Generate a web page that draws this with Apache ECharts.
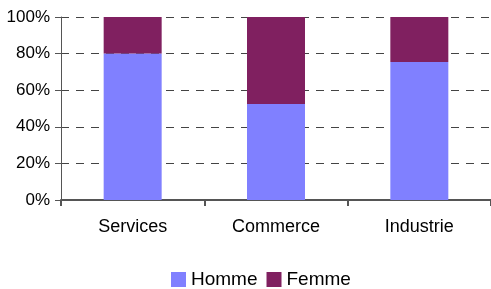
<!DOCTYPE html>
<html>
<head>
<meta charset="utf-8">
<script src="https://cdn.jsdelivr.net/npm/echarts@6/dist/echarts.min.js"></script>
<style>
  html, body { margin: 0; padding: 0; background: #fff; }
  #chart { width: 491px; height: 289px; }
</style>
</head>
<body>
<div id="chart"></div>
<script>
// données
const categories = ["Services", "Commerce", "Industrie"];
const homme = [80, 52.4, 75.4];
const femme = [20, 47.6, 24.6];
const yTicks = [0, 20, 40, 60, 80, 100];

const chart = echarts.init(document.getElementById("chart"));
const font = "Liberation Sans, Arial, sans-serif";

chart.setOption({
  animation: false,
  color: ["#8080ff", "#802060"],
  grid: { left: 61, right: 0, top: 17, bottom: 89 },
  legend: {
    top: 270,
    left: 171,
    padding: 0,
    itemWidth: 15,
    itemHeight: 15,
    itemGap: 9,
    icon: "rect",
    textStyle: { fontFamily: font, fontSize: 19, color: "#000" },
    data: ["Homme", "Femme"]
  },
  xAxis: {
    type: "category",
    data: categories,
    axisLine: { lineStyle: { color: "#555", width: 2 } },
    axisTick: { show: true, length: 6, lineStyle: { color: "#555", width: 2 } },
    axisLabel: { fontFamily: font, fontSize: 18, color: "#000", margin: 18 }
  },
  yAxis: {
    type: "value",
    min: yTicks[0],
    max: yTicks[yTicks.length - 1],
    interval: 20,
    axisLine: { show: true, lineStyle: { color: "#555", width: 1 } },
    axisTick: { show: true, length: 6, lineStyle: { color: "#555" } },
    axisLabel: { fontFamily: font, fontSize: 17, color: "#000", margin: 11, formatter: "{value}%" },
    splitLine: { lineStyle: { color: "#444", type: [8, 7], width: 1 } }
  },
  series: [
    { name: "Homme", type: "bar", stack: "t", data: homme, barWidth: 58 },
    { name: "Femme", type: "bar", stack: "t", data: femme, barWidth: 58 }
  ]
});
</script>
</body>
</html>
